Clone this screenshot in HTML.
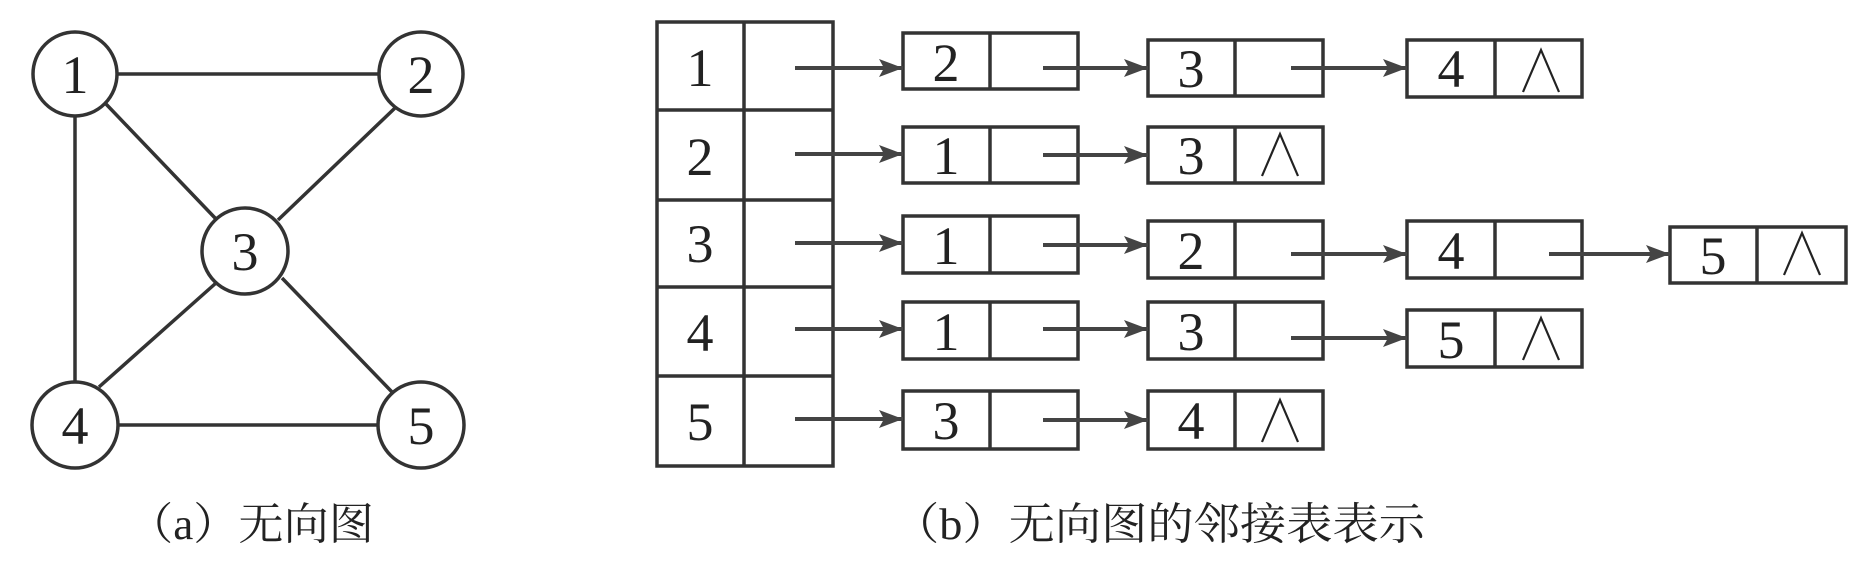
<!DOCTYPE html>
<html><head><meta charset="utf-8"><style>
html,body{margin:0;padding:0;background:#fff;}
svg{display:block;}
text{font-family:"Liberation Serif","Noto Serif CJK SC",serif;fill:#222;}
.cap{font-family:"Liberation Serif","Noto Serif CJK SC",serif;}
</style></head><body>
<svg width="1860" height="564" viewBox="0 0 1860 564" xmlns="http://www.w3.org/2000/svg">
<defs>
<marker id="ah" markerWidth="24" markerHeight="18" refX="24" refY="9" orient="auto" markerUnits="userSpaceOnUse">
<path d="M0,0 L24,9 L0,18 L5,9 Z" fill="#444"/>
</marker>
</defs>
<g stroke="#333" stroke-width="3.5" fill="none">
<line x1="117" y1="74" x2="379" y2="74"/>
<line x1="75" y1="117" x2="75" y2="382"/>
<line x1="117" y1="425" x2="379" y2="425"/>
<line x1="106" y1="104" x2="216" y2="219"/>
<line x1="395" y1="108" x2="278" y2="220"/>
<line x1="216" y1="283" x2="99" y2="387"/>
<line x1="282" y1="278" x2="392" y2="392"/>
<circle cx="75" cy="74" r="42" fill="#fff"/>
<circle cx="421" cy="74" r="42" fill="#fff"/>
<circle cx="245" cy="251" r="43" fill="#fff"/>
<circle cx="75" cy="425" r="43" fill="#fff"/>
<circle cx="421" cy="425" r="43" fill="#fff"/>
<rect x="657" y="22" width="176" height="444"/>
<line x1="744" y1="22" x2="744" y2="466"/>
<line x1="657" y1="110" x2="833" y2="110"/>
<line x1="657" y1="200" x2="833" y2="200"/>
<line x1="657" y1="287" x2="833" y2="287"/>
<line x1="657" y1="376" x2="833" y2="376"/>
<rect x="903" y="33" width="175" height="56"/><line x1="990" y1="33" x2="990" y2="89"/>
<rect x="903" y="127" width="175" height="56"/><line x1="990" y1="127" x2="990" y2="183"/>
<rect x="903" y="216" width="175" height="57"/><line x1="990" y1="216" x2="990" y2="273"/>
<rect x="903" y="302" width="175" height="57"/><line x1="990" y1="302" x2="990" y2="359"/>
<rect x="903" y="391" width="175" height="58"/><line x1="990" y1="391" x2="990" y2="449"/>
<rect x="1148" y="40" width="175" height="56"/><line x1="1235" y1="40" x2="1235" y2="96"/>
<rect x="1148" y="127" width="175" height="56"/><line x1="1235" y1="127" x2="1235" y2="183"/>
<rect x="1148" y="221" width="175" height="57"/><line x1="1235" y1="221" x2="1235" y2="278"/>
<rect x="1148" y="302" width="175" height="57"/><line x1="1235" y1="302" x2="1235" y2="359"/>
<rect x="1148" y="391" width="175" height="58"/><line x1="1235" y1="391" x2="1235" y2="449"/>
<rect x="1407" y="40" width="175" height="57"/><line x1="1495" y1="40" x2="1495" y2="97"/>
<rect x="1407" y="221" width="175" height="57"/><line x1="1495" y1="221" x2="1495" y2="278"/>
<rect x="1407" y="310" width="175" height="57"/><line x1="1495" y1="310" x2="1495" y2="367"/>
<rect x="1670" y="227" width="176" height="56"/><line x1="1757" y1="227" x2="1757" y2="283"/>
</g>
<g stroke="#444" stroke-width="4" fill="none" marker-end="url(#ah)">
<line x1="795" y1="68" x2="903" y2="68"/>
<line x1="795" y1="154" x2="903" y2="154"/>
<line x1="795" y1="243" x2="903" y2="243"/>
<line x1="795" y1="329" x2="903" y2="329"/>
<line x1="795" y1="419" x2="903" y2="419"/>
<line x1="1043" y1="68" x2="1148" y2="68"/>
<line x1="1043" y1="155" x2="1148" y2="155"/>
<line x1="1043" y1="245" x2="1148" y2="245"/>
<line x1="1043" y1="329" x2="1148" y2="329"/>
<line x1="1043" y1="420" x2="1148" y2="420"/>
<line x1="1291" y1="68" x2="1407" y2="68"/>
<line x1="1291" y1="254" x2="1407" y2="254"/>
<line x1="1291" y1="338" x2="1407" y2="338"/>
<line x1="1549" y1="254" x2="1670" y2="254"/>
</g>
<g stroke="#222" stroke-width="2.2" fill="none">
<path d="M1523,92 L1541,50 L1559,92"/>
<path d="M1262,176 L1280,134 L1298,176"/>
<path d="M1784,275 L1802,233 L1820,275"/>
<path d="M1523,360 L1541,318 L1559,360"/>
<path d="M1262,442 L1280,400 L1298,442"/>
</g>
<g font-size="54" text-anchor="middle">
<text x="75" y="93">1</text><text x="421" y="93">2</text><text x="245" y="270">3</text><text x="75" y="444">4</text><text x="421" y="444">5</text>
<text x="700" y="86">1</text><text x="700" y="175">2</text><text x="700" y="262">3</text><text x="700" y="351">4</text><text x="700" y="440">5</text>
<text x="946" y="81">2</text><text x="946" y="174">1</text><text x="946" y="264">1</text><text x="946" y="350">1</text><text x="946" y="439">3</text>
<text x="1191" y="87">3</text><text x="1191" y="174">3</text><text x="1191" y="269">2</text><text x="1191" y="350">3</text><text x="1191" y="439">4</text>
<text x="1451" y="87">4</text><text x="1451" y="269">4</text><text x="1451" y="358">5</text>
<text x="1713" y="274">5</text>
</g>
<text class="cap" x="128" y="539" font-size="44" textLength="246" lengthAdjust="spacingAndGlyphs">（a）无向图</text>
<text class="cap" x="893" y="539" font-size="44" textLength="532" lengthAdjust="spacingAndGlyphs">（b）无向图的邻接表表示</text>
</svg>
</body></html>
